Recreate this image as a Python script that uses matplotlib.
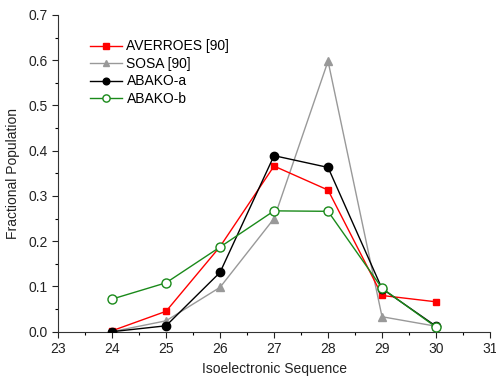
import matplotlib
matplotlib.use("Agg")
import matplotlib.pyplot as plt
from matplotlib.ticker import MultipleLocator

plt.rcParams['font.family'] = ['Liberation Sans', 'DejaVu Sans']

x = [24, 25, 26, 27, 28, 29, 30]
averroes = [0.002, 0.045, 0.188, 0.366, 0.313, 0.080, 0.066]
sosa = [0.0, 0.024, 0.098, 0.250, 0.598, 0.033, 0.012]
abako_a = [0.0, 0.013, 0.131, 0.389, 0.363, 0.095, 0.012]
abako_b = [0.072, 0.108, 0.187, 0.267, 0.266, 0.096, 0.010]

fig = plt.figure(figsize=(4.96, 3.83), dpi=100)
ax = fig.add_axes([0.117, 0.134, 0.871, 0.827])

ax.plot(x, averroes, color='#ff0000', lw=1.0, marker='s', ms=5, label='AVERROES [90]', zorder=3)
ax.plot(x, sosa, color='#999999', lw=1.0, marker='^', ms=6, label='SOSA [90]', zorder=2)
ax.plot(x, abako_a, color='#000000', lw=1.0, marker='o', ms=6, label='ABAKO-a', zorder=4)
ax.plot(x, abako_b, color='#1a8a1a', lw=1.0, marker='o', ms=6.5, mfc='white', mec='#1a8a1a',
        label='ABAKO-b', zorder=5)

ax.set_xlim(23, 31)
ax.set_ylim(0, 0.7)
ax.xaxis.set_major_locator(MultipleLocator(1))
ax.xaxis.set_minor_locator(MultipleLocator(0.5))
ax.yaxis.set_major_locator(MultipleLocator(0.1))
ax.yaxis.set_minor_locator(MultipleLocator(0.05))
ax.yaxis.set_major_formatter(plt.FormatStrFormatter('%.1f'))
ax.tick_params(which='major', direction='out', length=4, width=0.8, labelsize=10, colors='#222222')
ax.tick_params(which='minor', direction='out', length=2, width=0.8)
for s in ['top', 'right']:
    ax.spines[s].set_visible(False)
for s in ['left', 'bottom']:
    ax.spines[s].set_color('#333333')

ax.set_xlabel('Isoelectronic Sequence', fontsize=10, color='#222222')
ax.set_ylabel('Fractional Population', fontsize=10, color='#222222', labelpad=6)

ax.legend(loc='upper left', bbox_to_anchor=(0.062, 0.94), frameon=False, fontsize=10,
          handlelength=2.3, handletextpad=0.3, labelspacing=0.25, borderaxespad=0,
          markerscale=0.8)

fig.savefig('out.png', dpi=100)
